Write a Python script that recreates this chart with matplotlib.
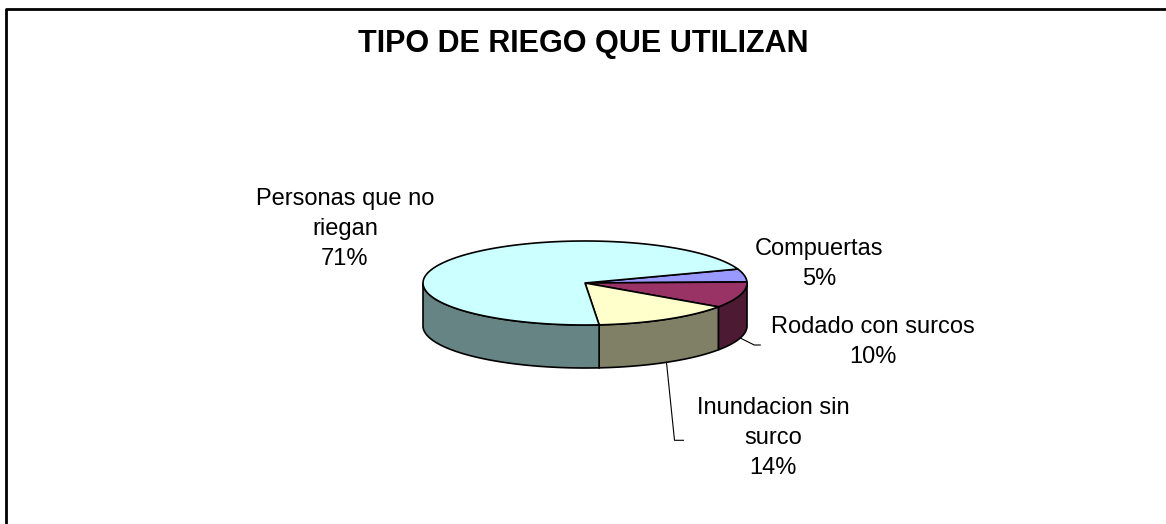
import numpy as np
import matplotlib
matplotlib.use('Agg')
from matplotlib import pyplot as plt
from matplotlib.patches import Polygon

plt.rcParams['font.family'] = ['Liberation Sans', 'DejaVu Sans']

title = 'TIPO DE RIEGO QUE UTILIZAN'
labels = ['Compuertas', 'Rodado con surcos', 'Inundacion sin\nsurco',
          'Personas que no\nriegan']
values = [5, 10, 14, 71]
top_colors = ['#9999FF', '#993366', '#FFFFCC', '#CCFFFF']
side_colors = ['#4D4D80', '#4D1A33', '#808066', '#668484']

# geometry of the 3d pie, in pixels
cx, cy = 585, 283
rx, ry = 162, 42
depth = 43
start = 19.4  # degrees, slices go clockwise

W, H = 1166, 524
fig = plt.figure(figsize=(W / 100, H / 100), dpi=100)
ax = fig.add_axes([0, 0, 1, 1])
ax.set_xlim(0, W)
ax.set_ylim(H, 0)
ax.axis('off')


def rim(t, dz=0):
    t = np.radians(t)
    return np.column_stack([cx + rx * np.cos(t), cy - ry * np.sin(t) + dz])


fracs = np.array(values) / np.sum(values)
bounds = start - 360 * np.concatenate([[0], np.cumsum(fracs)])
slices = [(bounds[i + 1], bounds[i]) for i in range(len(values))]

# side walls (front half only)
for (a1, a2), col in zip(slices, side_colors):
    for lo, hi in [(-180, 0), (-540, -360)]:
        s, e = max(a1, lo), min(a2, hi)
        if e <= s:
            continue
        t = np.linspace(s, e, 80)
        pts = np.vstack([rim(t), rim(t[::-1], depth)])
        ax.add_patch(Polygon(pts, closed=True, fc=col, ec='black', lw=1.2))

# top faces
for (a1, a2), col in zip(slices, top_colors):
    t = np.linspace(a1, a2, 200)
    pts = np.vstack([[cx, cy], rim(t)])
    ax.add_patch(Polygon(pts, closed=True, fc=col, ec='black', lw=1.2,
                         joinstyle='round'))

# labels
pcts = [f'{v}%' for v in values]
label_pos = [(819, 264), (873, 342), (773, 438), (345, 229)]
for lab, p, (x, y) in zip(labels, pcts, label_pos):
    ax.text(x, y, f'{lab}\n{p}', ha='center', va='center', fontsize=17,
            linespacing=1.47)

# leader lines for the two lower labels
mids = [(a1 + a2) / 2 for a1, a2 in slices]
p = rim(mids[1], depth)[0]
ax.plot([p[0], p[0] + 14, p[0] + 20], [p[1], p[1] + 7, p[1] + 7],
        color='black', lw=0.8)
p = rim(mids[2], depth)[0]
ax.plot([p[0], p[0] + 8, p[0] + 17], [p[1], p[1] + 78, p[1] + 78],
        color='black', lw=0.8)

ax.text(583, 44, title, ha='center', va='center', fontsize=22,
        fontweight='bold')

# chart area border (only top and left visible)
ax.plot([5.5, 5.5, W], [H, 8.5, 8.5], color='black', lw=2)

fig.savefig('out.png', dpi=100)
